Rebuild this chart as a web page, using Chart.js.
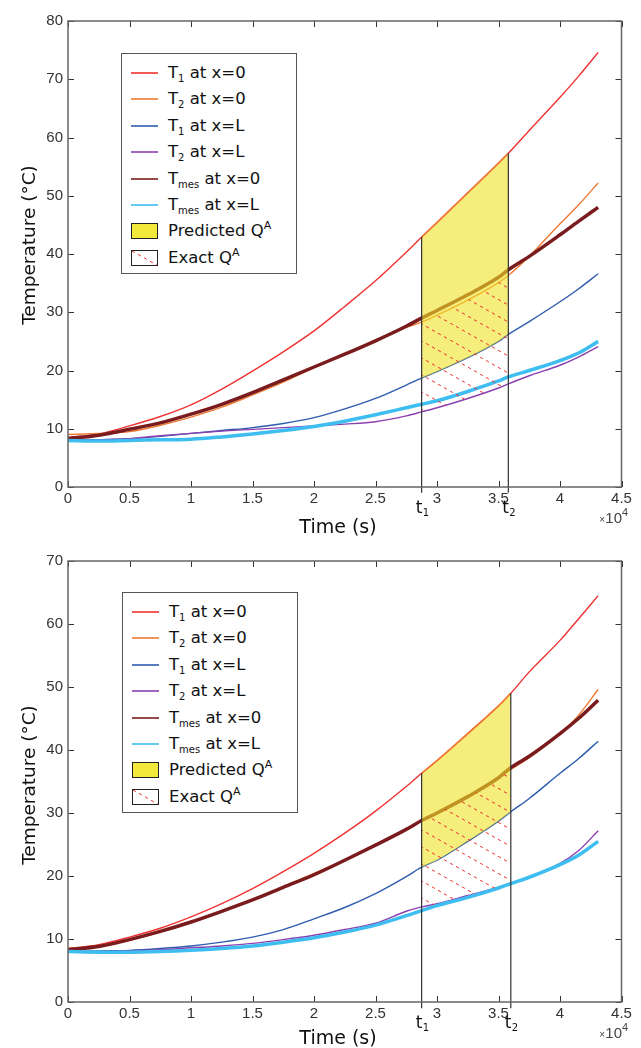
<!DOCTYPE html>
<html>
<head>
<meta charset="utf-8">
<script src="https://cdn.jsdelivr.net/npm/chart.js@4.4.0/dist/chart.umd.min.js"></script>
<style>
  body { margin: 0; background: #fff; }
  #wrap { position: relative; width: 641px; height: 1048px; }
  #wrap canvas.chart { position: absolute; left: 0; }
  .legend { position: absolute; width: 174px; height: 219px; border: 1px solid #555; background: #fff;
            font-family: "DejaVu Sans"; font-size: 16.5px; color: #111; }
  .row { position: absolute; left: 0; width: 174px; height: 20px; line-height: 20px; }
  .row .txt { position: absolute; left: 46px; top: 0; height: 20px; line-height: 20px; white-space: nowrap; }
  .row .ln { position: absolute; left: 9px; top: 9px; width: 27px; height: 2px; }
  .row .box { position: absolute; left: 9px; top: 2px; width: 25px; height: 14px; border: 1px solid #222; }
  .sub { font-size: 10px; position: relative; top: 4px; line-height: 0; }
  .sup { font-size: 11px; position: relative; top: -7px; line-height: 0; }
</style>
</head>
<body>
<div id="wrap">
  <canvas id="chart-top" class="chart" width="641" height="540" style="top:0"></canvas>
  <canvas id="chart-bottom" class="chart" width="641" height="508" style="top:540px"></canvas>
</div>

<script>
// ---- data (time in s, temperature in °C) ----
var t1Top = 28750, t2Top = 35800;
var timeTop = [0, 2500, 5000, 7500, 10000, 12500, 15000, 17500, 20000, 22500, 25000,
               27500, 28750, 30000, 32500, 35000, 35800, 37500, 40000, 41500, 43100];
var T1x0Top   = [8.5, 9.1, 10.5, 12.1, 14.1, 16.8, 19.9, 23.2, 26.8, 31.0, 35.4, 40.3, 42.9, 45.4, 50.5, 55.6, 57.3, 61.2, 66.9, 70.5, 74.6];
var T2x0Top   = [9.0, 9.2, 9.5, 10.6, 12.0, 13.7, 15.8, 18.0, 20.5, 22.8, 25.2, 27.4, 28.3, 29.5, 32.1, 35.1, 36.3, 39.6, 45.2, 48.4, 52.2];
var T1xLTop   = [8.0, 8.1, 8.3, 8.7, 9.2, 9.7, 10.2, 10.9, 11.9, 13.4, 15.2, 17.5, 18.7, 19.8, 22.2, 25.0, 26.2, 28.4, 31.8, 34.0, 36.6];
var T2xLTop   = [8.0, 8.1, 8.3, 8.8, 9.2, 9.6, 9.9, 10.2, 10.5, 10.8, 11.2, 12.2, 12.9, 13.6, 15.2, 17.0, 17.7, 19.1, 20.9, 22.3, 24.1];
var Tmesx0Top = [8.3, 8.9, 9.9, 11.0, 12.5, 14.2, 16.2, 18.4, 20.6, 22.8, 25.1, 27.6, 29.0, 30.3, 33.0, 36.0, 37.3, 39.6, 43.3, 45.6, 48.0];
var TmesxLTop = [8.0, 7.9, 8.0, 8.1, 8.2, 8.6, 9.1, 9.7, 10.4, 11.3, 12.4, 13.6, 14.2, 14.8, 16.4, 18.2, 18.9, 20.0, 21.7, 23.0, 25.0];

var t1Bot = 28750, t2Bot = 36000;
var timeBot = [0, 2500, 5000, 7500, 10000, 12500, 15000, 17500, 20000, 22500, 25000,
               27500, 28750, 30000, 32500, 35000, 36000, 37500, 40000, 41500, 43100];
var T1x0Bot   = [8.5, 9.1, 10.3, 11.7, 13.5, 15.6, 18.0, 20.7, 23.6, 26.8, 30.3, 34.2, 36.3, 38.3, 42.6, 47.0, 49.0, 52.4, 57.4, 60.8, 64.5];
var T2x0Bot   = [8.5, 8.8, 9.8, 11.1, 12.6, 14.4, 16.3, 18.3, 20.4, 22.6, 25.0, 27.5, 28.9, 30.0, 32.5, 35.6, 36.9, 38.8, 42.6, 45.5, 49.6];
var T1xLBot   = [8.0, 8.1, 8.2, 8.5, 8.9, 9.5, 10.3, 11.5, 13.2, 15.0, 17.2, 19.9, 21.4, 22.5, 25.5, 28.7, 30.2, 32.3, 36.3, 38.6, 41.4];
var T2xLBot   = [8.0, 8.0, 8.1, 8.3, 8.6, 8.9, 9.3, 9.9, 10.6, 11.5, 12.5, 14.4, 15.1, 15.6, 16.9, 18.2, 18.8, 19.8, 22.0, 24.0, 27.2];
var Tmesx0Bot = [8.3, 8.8, 9.9, 11.2, 12.7, 14.4, 16.2, 18.2, 20.2, 22.5, 24.9, 27.4, 28.8, 30.0, 32.6, 35.6, 37.2, 39.0, 42.6, 45.0, 47.9];
var TmesxLBot = [8.0, 7.9, 7.9, 8.0, 8.2, 8.5, 8.9, 9.5, 10.2, 11.1, 12.2, 13.7, 14.5, 15.3, 16.6, 18.1, 18.8, 19.8, 21.8, 23.3, 25.5];

var xTicks = [0, 5000, 10000, 15000, 20000, 25000, 30000, 35000, 40000, 45000];

var RED = '#f03232', ORANGE = '#ee7a34', BLUE = '#2e5caf', PURPLE = '#8b3fb0',
    DARKRED = '#7a1c1e', CYAN = '#3dbdf0', YELLOW = 'rgba(240,226,36,0.6)';

// red dashed diagonal hatch, as a repeating pattern
function hatchPattern(ctx) {
  var w = 30, h = 17, len = Math.sqrt(w * w + h * h);
  var tile = document.createElement('canvas');
  tile.width = w; tile.height = h;
  var c = tile.getContext('2d');
  c.strokeStyle = '#f03030';
  c.lineWidth = 1;
  c.setLineDash([3.3, len / 5 - 3.3]);
  c.beginPath();
  c.moveTo(-w, -h);
  c.lineTo(2 * w, 2 * h);
  c.stroke();
  return ctx.createPattern(tile, 'repeat');
}

function sub(s) { return '<span class="sub">' + s + '</span>'; }
function sup(s) { return '<span class="sup">' + s + '</span>'; }

function buildLegend(left, top) {
  var items = [
    ['line', RED, 'T' + sub('1') + ' at x=0'],
    ['line', ORANGE, 'T' + sub('2') + ' at x=0'],
    ['line', BLUE, 'T' + sub('1') + ' at x=L'],
    ['line', PURPLE, 'T' + sub('2') + ' at x=L'],
    ['line', DARKRED, 'T' + sub('mes') + ' at x=0'],
    ['line', CYAN, 'T' + sub('mes') + ' at x=L'],
    ['fill', '#f3e93a', 'Predicted Q' + sup('A')],
    ['hatch', '', 'Exact Q' + sup('A')]
  ];
  var box = document.createElement('div');
  box.className = 'legend';
  box.style.left = left + 'px';
  box.style.top = top + 'px';
  items.forEach(function (it, i) {
    var row = document.createElement('div');
    row.className = 'row';
    row.style.top = (9 + i * 26.4) + 'px';
    var mark;
    if (it[0] === 'line') {
      mark = document.createElement('div');
      mark.className = 'ln';
      mark.style.background = it[1];
      mark.style.opacity = 0.8;
    } else if (it[0] === 'fill') {
      mark = document.createElement('div');
      mark.className = 'box';
      mark.style.background = it[1];
    } else {
      mark = document.createElement('canvas');
      mark.className = 'box';
      mark.width = 25; mark.height = 14;
      var mc = mark.getContext('2d');
      mc.fillStyle = '#fff';
      mc.fillRect(0, 0, 25, 14);
      mc.fillStyle = hatchPattern(mc);
      mc.fillRect(0, 0, 25, 14);
    }
    row.appendChild(mark);
    var txt = document.createElement('span');
    txt.className = 'txt';
    txt.innerHTML = it[2];
    row.appendChild(txt);
    box.appendChild(row);
  });
  document.getElementById('wrap').appendChild(box);
}

// frame, inward ticks and the extra texts
var framePlugin = {
  id: 'frame',
  afterDraw: function (chart, args, opts) {
    var ctx = chart.ctx, a = chart.chartArea, xs = chart.scales.x, ys = chart.scales.y;
    ctx.save();
    ctx.strokeStyle = '#333';
    ctx.lineWidth = 1;
    ctx.beginPath();
    xs.ticks.forEach(function (t) {
      var px = Math.round(xs.getPixelForValue(t.value)) + 0.5;
      ctx.moveTo(px, a.bottom); ctx.lineTo(px, a.bottom - 6);
      ctx.moveTo(px, a.top); ctx.lineTo(px, a.top + 6);
    });
    ys.ticks.forEach(function (t) {
      var py = Math.round(ys.getPixelForValue(t.value)) + 0.5;
      ctx.moveTo(a.left, py); ctx.lineTo(a.left + 6, py);
      ctx.moveTo(a.right, py); ctx.lineTo(a.right - 6, py);
    });
    ctx.stroke();
    ctx.strokeStyle = '#666';
    ctx.lineWidth = 1.5;
    ctx.strokeRect(a.left, a.top, a.right - a.left, a.bottom - a.top);

    ctx.fillStyle = '#111';
    ctx.textBaseline = 'alphabetic';
    // x title
    ctx.font = '19px "DejaVu Sans"';
    ctx.textAlign = 'center';
    ctx.fillText('Time (s)', 338, a.bottom + opts.titleGap);
    // y title
    ctx.save();
    ctx.translate(35, 245);
    ctx.rotate(-Math.PI / 2);
    ctx.font = '18.5px "DejaVu Sans"';
    ctx.fillText('Temperature (°C)', 0, 0);
    ctx.restore();
    // t1, t2
    [[opts.t1, '1'], [opts.t2, '2']].forEach(function (t) {
      var px = xs.getPixelForValue(t[0]);
      ctx.textAlign = 'left';
      ctx.font = '17px "DejaVu Sans"';
      ctx.fillText('t', px - 6, a.bottom + 26);
      ctx.font = '10px "DejaVu Sans"';
      ctx.fillText(t[1], px + 1, a.bottom + 29);
    });
    // x10^4 multiplier
    ctx.fillStyle = '#444';
    ctx.textAlign = 'right';
    ctx.font = '15px "Liberation Sans"';
    ctx.fillText('10', 622, a.bottom + 36);
    ctx.font = '10px "Liberation Sans"';
    ctx.fillText('×', 605, a.bottom + 36);
    ctx.textAlign = 'left';
    ctx.font = '11px "Liberation Sans"';
    ctx.fillText('4', 622, a.bottom + 29);
    ctx.restore();
  }
};

function makeChart(id, time, T1x0, T2x0, T1xL, T2xL, Tmesx0, TmesxL, t1, t2, yMax, xHeight, titleGap) {
  var i1 = time.indexOf(t1), i2 = time.indexOf(t2);
  function pts(v) { return time.map(function (t, i) { return { x: t, y: v[i] }; }); }
  function part(v) { return pts(v).slice(i1, i2 + 1); }
  function curve(v, color, width, order) {
    return { data: pts(v), borderColor: color, borderWidth: width, order: order,
             pointRadius: 0, cubicInterpolationMode: 'monotone', fill: false };
  }
  function vline(t, top, order) {
    return { data: [{ x: t, y: top }, { x: t, y: -1.0 }], borderColor: '#333', borderWidth: 1.2,
             order: order, pointRadius: 0, fill: false, clip: false };
  }
  var ctx = document.getElementById(id).getContext('2d');
  var datasets = [
    curve(T1x0, RED, 1.4, 11),
    curve(T2x0, ORANGE, 1.4, 10),
    curve(T1xL, BLUE, 1.4, 9),
    curve(T2xL, PURPLE, 1.4, 8),
    curve(Tmesx0, DARKRED, 3.5, 7),
    curve(TmesxL, CYAN, 3.5, 6),
    // predicted Q: between T1 at x=0 and T1 at x=L
    { data: part(T1x0), borderColor: ORANGE, borderWidth: 1.6, backgroundColor: YELLOW, fill: 7,
      order: 4, pointRadius: 0, cubicInterpolationMode: 'monotone' },
    { data: part(T1xL), borderWidth: 0, borderColor: 'rgba(0,0,0,0)', fill: false,
      order: 5, pointRadius: 0, cubicInterpolationMode: 'monotone' },
    // exact Q: between T2 at x=0 and T2 at x=L
    { data: part(T2x0), borderWidth: 0, borderColor: 'rgba(0,0,0,0)', backgroundColor: hatchPattern(ctx), fill: 9,
      order: 2, pointRadius: 0, cubicInterpolationMode: 'monotone' },
    { data: part(T2xL), borderWidth: 0, borderColor: 'rgba(0,0,0,0)', fill: false,
      order: 3, pointRadius: 0, cubicInterpolationMode: 'monotone' },
    vline(t1, T1x0[i1], 1),
    vline(t2, T1x0[i2], 0)
  ];
  var tickFont = { family: 'Liberation Sans', size: 15 };
  return new Chart(ctx, {
    type: 'line',
    data: { datasets: datasets },
    plugins: [framePlugin],
    options: {
      responsive: false,
      animation: false,
      events: [],
      layout: { padding: { top: 21, right: 19.5, left: 0, bottom: 0 } },
      plugins: {
        legend: { display: false },
        tooltip: { enabled: false },
        frame: { t1: t1, t2: t2, titleGap: titleGap }
      },
      scales: {
        x: {
          type: 'linear', min: 0, max: 45000,
          afterBuildTicks: function (s) { s.ticks = xTicks.map(function (v) { return { value: v }; }); },
          ticks: { font: tickFont, color: '#333', padding: 3, maxRotation: 0, autoSkip: false,
                   callback: function (v) { return String(v / 10000); } },
          grid: { display: false, drawTicks: false },
          border: { display: false },
          afterFit: function (s) { s.height = xHeight; }
        },
        y: {
          type: 'linear', min: 0, max: yMax,
          ticks: { stepSize: 10, font: tickFont, color: '#333', padding: 5 },
          grid: { display: false, drawTicks: false },
          border: { display: false },
          afterFit: function (s) { s.width = 68; }
        }
      }
    }
  });
}

makeChart('chart-top', timeTop, T1x0Top, T2x0Top, T1xLTop, T2xLTop, Tmesx0Top, TmesxLTop,
          t1Top, t2Top, 80, 53, 46);
makeChart('chart-bottom', timeBot, T1x0Bot, T2x0Bot, T1xLBot, T2xLBot, Tmesx0Bot, TmesxLBot,
          t1Bot, t2Bot, 70, 46, 42);
buildLegend(121, 53);
buildLegend(122, 592);
</script>
</body>
</html>
